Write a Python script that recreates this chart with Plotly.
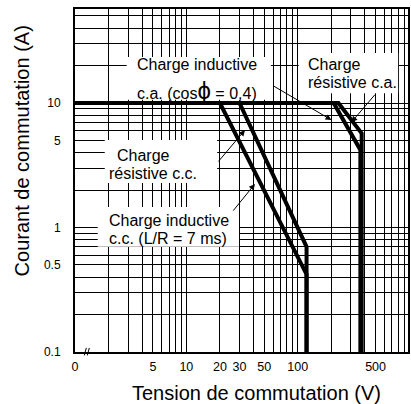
import numpy as np
import plotly.graph_objects as go

# -------------------------------
# Datos (V, A)
# -------------------------------
dc_res_v = [1, 30, 120, 120]
dc_res_a = [10, 10, 0.7, 0.1]

dc_ind_v = [1, 20, 120, 120]
dc_ind_a = [10, 10, 0.42, 0.1]

ac_res_v = [1, 232, 375, 375]
ac_res_a = [10, 10, 5.7, 0.1]

ac_ind_v = [1, 210, 365, 365]
ac_ind_a = [10, 10, 4.2, 0.1]

# rejilla logarítmica y etiquetas
x_grid = [1, 2, 3, 4, 5, 6, 7, 8, 9, 10, 20, 30, 40, 50, 60, 70, 80, 90,
          100, 200, 300, 400, 500, 600, 700, 800, 900]
x_labels = {1: "0", 5: "5", 10: "10", 20: "20", 30: "30", 50: "50", 100: "100", 500: "500"}

y_grid = [0.1, 0.2, 0.3, 0.4, 0.5, 0.6, 0.7, 0.8, 0.9, 1, 2, 3, 4, 5, 6, 7, 8, 9,
          10, 20, 30, 40, 50]
y_labels = {0.1: "0.1", 0.5: "0.5", 1: "1", 5: "5", 10: "10"}

FONT = "Liberation Sans, Arial, sans-serif"
NARROW = "Liberation Sans Narrow, Arial Narrow, Liberation Sans, Arial, sans-serif"

fig = go.Figure()

for xs, ys in [(dc_res_v, dc_res_a), (dc_ind_v, dc_ind_a),
               (ac_res_v, ac_res_a), (ac_ind_v, ac_ind_a)]:
    fig.add_trace(go.Scatter(x=xs, y=ys, mode="lines",
                             line=dict(color="black", width=4),
                             showlegend=False, hoverinfo="skip"))

L = np.log10

# cajas blancas bajo las etiquetas
boxes = [
    (2.91, 57.4, 10.6, 23.4),
    (102, 797, 12.0, 25.2),
    (1.85, 18.9, 2.28, 5.05),
    (1.60, 29.7, 0.70, 1.46),
]
for x0, x1, y0, y1 in boxes:
    fig.add_shape(type="rect", xref="x", yref="y", x0=x0, x1=x1, y0=y0, y1=y1,
                  fillcolor="white", line=dict(width=0), layer="above")

# textos
texts = [
    ("Charge inductive", 3.43, 20.2),
    ("c.a. (cos<span style='font-size:24px'>ϕ</span> = 0,4)", 3.43, 12.5),
    ("Charge", 118, 20.2),
    ("résistive c.a.", 118, 14.5),
    ("Charge", 2.28, 3.82),
    ("résistive c.c.", 1.93, 2.74),
    ("Charge inductive", 1.93, 1.13),
    ("c.c. (L/R = 7 ms)", 1.93, 0.81),
]
for t, x, y in texts:
    fig.add_annotation(text=t, x=L(x), y=L(y), xref="x", yref="y",
                       xanchor="left", yanchor="middle", showarrow=False,
                       font=dict(family=FONT, size=16, color="black"))

# flechas
arrows = [
    ((201, 7.3), (58.6, 13.95)),
    ((303, 7.0), (507, 12.0)),
    ((33.6, 6.07), (18.9, 3.30)),
    ((41.3, 2.24), (25.7, 1.33)),
]
for (hx, hy), (tx, ty) in arrows:
    fig.add_annotation(text="", x=L(hx), y=L(hy), ax=L(tx), ay=L(ty),
                       xref="x", yref="y", axref="x", ayref="y",
                       showarrow=True, arrowhead=2, arrowsize=1.2,
                       arrowwidth=1, arrowcolor="black", standoff=0)

# títulos de ejes
fig.add_annotation(text="Courant de commutation (A)", textangle=-90,
                   xref="paper", yref="paper", x=-0.158, y=0.586,
                   xanchor="center", yanchor="middle",
                   showarrow=False, font=dict(family=FONT, size=20, color="black"))
fig.add_annotation(text="Tension de commutation (V)",
                   xref="paper", yref="paper", x=0.546, y=-0.12,
                   xanchor="center", yanchor="middle",
                   showarrow=False, font=dict(family=FONT, size=20, color="black"))

# corte del eje cerca de 0
for xa in [0.028, 0.037]:
    fig.add_shape(type="line", xref="paper", yref="paper",
                  x0=xa, x1=xa + 0.006, y0=-0.01, y1=0.012,
                  line=dict(color="black", width=1))

fig.update_xaxes(type="log", range=[0, 2.99],
                 tickvals=x_grid, ticktext=[x_labels.get(v, "") for v in x_grid],
                 showgrid=True, gridcolor="black", gridwidth=1,
                 showline=True, linecolor="black", linewidth=2, mirror=True,
                 ticks="", ticklabelstandoff=2, zeroline=False,
                 tickfont=dict(family=NARROW, size=12.5, color="black"))
fig.update_yaxes(type="log", range=[-1, 1.755],
                 tickvals=y_grid, ticktext=[y_labels.get(v, "") for v in y_grid],
                 showgrid=True, gridcolor="black", gridwidth=1,
                 showline=True, linecolor="black", linewidth=2, mirror=True,
                 ticks="", ticklabelstandoff=10, zeroline=False,
                 tickfont=dict(family=NARROW, size=12, color="black"))

fig.update_layout(width=411, height=404,
                  margin=dict(l=75, r=1, t=9, b=52),
                  paper_bgcolor="white", plot_bgcolor="white")

fig.write_html("out.html", config={"displayModeBar": False},
               post_script="document.body.style.margin='0';document.body.style.padding='0';")
